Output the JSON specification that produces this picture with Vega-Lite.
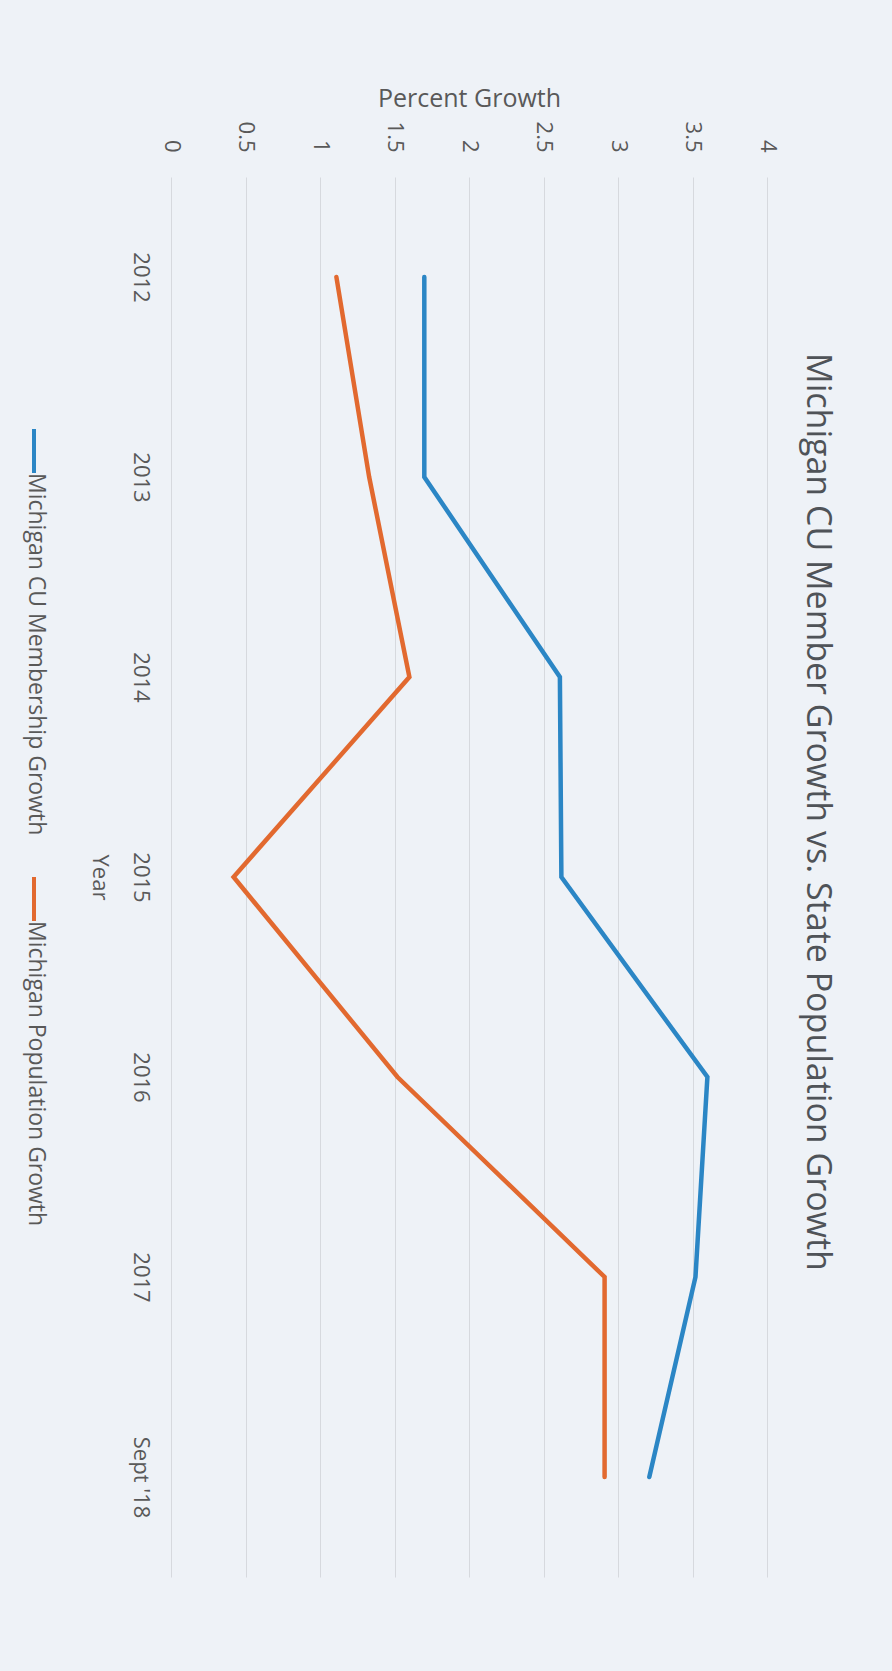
{
  "$schema": "https://vega.github.io/schema/vega-lite/v6.json",
  "width": 596,
  "height": 1400,
  "autosize": "none",
  "padding": {"left": 171, "top": 177, "right": 125, "bottom": 94},
  "background": "#eef2f7",
  "config": {"view": {"stroke": null}},
  "title": {
    "text": "Michigan CU Member Growth vs. State Population Growth",
    "orient": "right",
    "angle": 90,
    "anchor": "middle",
    "frame": "group",
    "baseline": "alphabetic",
    "offset": -5,
    "dx": -65,
    "font": "Open Sans",
    "fontSize": 34,
    "fontWeight": "normal",
    "color": "#4f5358"
  },
  "data": {
    "values": [
      {"year": "2012", "series": "Michigan CU Membership Growth", "value": 1.70},
      {"year": "2013", "series": "Michigan CU Membership Growth", "value": 1.70},
      {"year": "2014", "series": "Michigan CU Membership Growth", "value": 2.61},
      {"year": "2015", "series": "Michigan CU Membership Growth", "value": 2.62},
      {"year": "2016", "series": "Michigan CU Membership Growth", "value": 3.60},
      {"year": "2017", "series": "Michigan CU Membership Growth", "value": 3.52},
      {"year": "Sept '18", "series": "Michigan CU Membership Growth", "value": 3.21},
      {"year": "2012", "series": "Michigan Population Growth", "value": 1.11},
      {"year": "2013", "series": "Michigan Population Growth", "value": 1.33},
      {"year": "2014", "series": "Michigan Population Growth", "value": 1.60},
      {"year": "2015", "series": "Michigan Population Growth", "value": 0.42},
      {"year": "2016", "series": "Michigan Population Growth", "value": 1.52},
      {"year": "2017", "series": "Michigan Population Growth", "value": 2.91},
      {"year": "Sept '18", "series": "Michigan Population Growth", "value": 2.91}
    ]
  },
  "mark": {"type": "line", "strokeWidth": 4.5, "strokeCap": "round", "strokeJoin": "miter"},
  "encoding": {
    "x": {
      "field": "value",
      "type": "quantitative",
      "scale": {"domain": [0, 4], "nice": false, "zero": true},
      "axis": {
        "orient": "top",
        "values": [0, 0.5, 1, 1.5, 2, 2.5, 3, 3.5, 4],
        "format": "~g",
        "grid": true,
        "gridColor": "#d6d9de",
        "gridWidth": 1,
        "domain": false,
        "ticks": false,
        "labelAngle": 90,
        "labelAlign": "right",
        "labelBaseline": "middle",
        "labelPadding": 25,
        "labelFont": "Open Sans",
        "labelFontSize": 22,
        "labelColor": "#595959",
        "labelFlush": false,
        "labelOverlap": false,
        "title": "Percent Growth",
        "titleFont": "Open Sans",
        "titleFontSize": 25,
        "titleFontWeight": "normal",
        "titleColor": "#595959",
        "titleAngle": 0,
        "titlePadding": 10
      }
    },
    "y": {
      "field": "year",
      "type": "ordinal",
      "sort": ["2012", "2013", "2014", "2015", "2016", "2017", "Sept '18"],
      "scale": {"type": "point", "padding": 0.5},
      "axis": {
        "orient": "left",
        "grid": false,
        "domain": false,
        "ticks": false,
        "labelAngle": 90,
        "labelAlign": "center",
        "labelBaseline": "top",
        "labelPadding": 21,
        "labelFont": "Open Sans",
        "labelFontSize": 22,
        "labelColor": "#595959",
        "labelOverlap": false,
        "title": "Year",
        "titleFont": "Open Sans",
        "titleFontSize": 22,
        "titleFontWeight": "normal",
        "titleColor": "#595959",
        "titleAngle": 90,
        "titleBaseline": "top",
        "titlePadding": 20
      }
    },
    "color": {
      "field": "series",
      "type": "nominal",
      "scale": {"domain": ["Michigan CU Membership Growth", "Michigan Population Growth"], "range": ["#2b86c5", "#e2692f"]},
      "legend": {
        "title": null,
        "orient": "none",
        "legendX": -161,
        "legendY": 272,
        "direction": "vertical",
        "symbolType": "M0,-2V0",
        "symbolSize": 1936,
        "symbolStrokeWidth": 4,
        "labelAlign": "left",
        "labelBaseline": "middle",
        "labelOffset": -22,
        "labelFont": "Open Sans",
        "labelFontSize": 23,
        "labelColor": "#595959",
        "labelLimit": 0,
        "rowPadding": 33,
        "encode": {
          "labels": {"update": {"angle": {"value": 90}}}
        }
      }
    }
  }
}
